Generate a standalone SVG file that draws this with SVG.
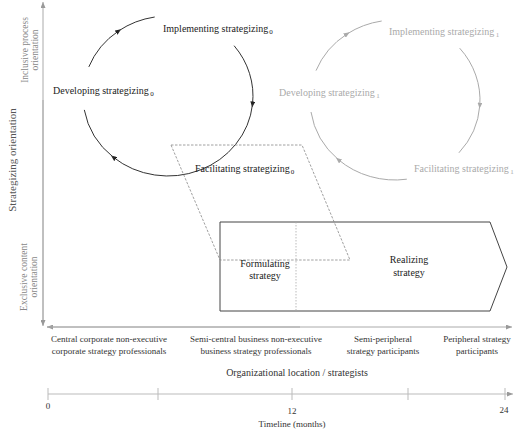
<svg xmlns="http://www.w3.org/2000/svg" width="520" height="432" viewBox="0 0 520 432" font-family="'Liberation Serif', 'Times New Roman', serif">
<style>
text{font-family:'Liberation Serif','Times New Roman',serif;}
.dk{fill:#222;font-size:10px;}
.gr{fill:#aaa;font-size:10px;}
.ax{fill:#888;font-size:9.5px;}
.lb{fill:#333;font-size:9px;}
.sub{font-size:7px;}
.arcd{fill:none;stroke:#333;stroke-width:1;}
.arcg{fill:none;stroke:#aaa;stroke-width:1;}
.axis{stroke:#aaa;stroke-width:1;fill:none;}
</style>
<defs>
<marker id="ad" markerWidth="6" markerHeight="5" refX="3" refY="2.5" orient="auto" markerUnits="userSpaceOnUse"><path d="M0,0 L6,2.5 L0,5 z" fill="#222"/></marker>
<marker id="ag" markerWidth="6" markerHeight="5" refX="3" refY="2.5" orient="auto" markerUnits="userSpaceOnUse"><path d="M0,0 L6,2.5 L0,5 z" fill="#aaa"/></marker>
<marker id="ax" markerWidth="6" markerHeight="5" refX="6" refY="2.5" orient="auto" markerUnits="userSpaceOnUse"><path d="M0,0 L6,2.5 L0,5 z" fill="#999"/></marker>
</defs>

<g id="axes">
<line class="axis" x1="43" y1="325" x2="43" y2="2" marker-end="url(#ax)"/>
<line class="axis" x1="43" y1="100" x2="43" y2="326" marker-end="url(#ax)"/>
<line class="axis" x1="300" y1="327" x2="47" y2="327" marker-end="url(#ax)"/>
<line class="axis" x1="47" y1="327" x2="512" y2="327" marker-end="url(#ax)"/>
<text transform="translate(16,160) rotate(-90)" text-anchor="middle" style="fill:#555;font-size:11px">Strategizing orientation</text>
<text transform="translate(28,50) rotate(-90)" text-anchor="middle" class="ax">Inclusive process</text>
<text transform="translate(38,50) rotate(-90)" text-anchor="middle" class="ax">orientation</text>
<text transform="translate(26.5,277) rotate(-90)" text-anchor="middle" class="ax">Exclusive content</text>
<text transform="translate(36.5,277) rotate(-90)" text-anchor="middle" class="ax">orientation</text>
</g>

<g id="connectors">
<path class="arcd" d="M88.8,66.9 A85,80 0 0 1 118.6,30.9" marker-end="url(#ad)"/>
<path class="arcd" d="M118.6,30.9 A85,80 0 0 1 154.7,17.0"/>
<path class="arcd" d="M234.1,45.7 A85,80 0 0 1 252.5,104.4" marker-end="url(#ad)"/>
<path class="arcd" d="M252.5,104.4 A85,80 0 0 1 113.4,157.3" marker-end="url(#ad)"/>
<path class="arcd" d="M113.4,157.3 A85,80 0 0 1 84.3,109.9"/>
<path class="arcg" d="M316,70.6 A85,80 0 0 1 347,34" marker-end="url(#ag)"/>
<path class="arcg" d="M347,34 A85,80 0 0 1 381.7,21"/>
<path class="arcg" d="M459.7,48.2 A85,80 0 0 1 479.8,105.6" marker-end="url(#ag)"/>
<path class="arcg" d="M479.8,105.6 A85,80 0 0 1 458.9,152.8"/>
<path class="arcg" d="M406.8,179.2 A85,80 0 0 1 338.3,159.6" marker-end="url(#ag)"/>
<path class="arcg" d="M338.3,159.6 A85,80 0 0 1 311,112"/>
</g>

<g id="cycle0">
<text class="dk" x="163" y="32">Implementing strategizing<tspan class="sub" dx="1" dy="2">0</tspan></text>
<text class="dk" x="53" y="94">Developing strategizing<tspan class="sub" dx="1.5" dy="2">0</tspan></text>
</g>

<g id="cycle1">
<text class="gr" x="389" y="35">Implementing strategizing<tspan class="sub" dx="1.5" dy="2">1</tspan></text>
<text class="gr" x="279" y="96">Developing strategizing<tspan class="sub" dx="1.5" dy="2">1</tspan></text>
<text class="gr" x="414" y="172">Facilitating strategizing<tspan class="sub" dx="1.5" dy="2">1</tspan></text>
</g>

<g id="realizing">
<path d="M220,222 L490,222 L507,267 L490,311 L220,311 Z" fill="none" stroke="#444" stroke-width="1"/>
<line x1="296" y1="222" x2="296" y2="311" stroke="#aaa" stroke-width="0.8" stroke-dasharray="1.5,1.5"/>
<text class="dk" x="409" y="263" text-anchor="middle">Realizing</text>
<text class="dk" x="409" y="276" text-anchor="middle">strategy</text>
</g>

<g id="formulating">
<path d="M171,145 L302,145 L350,260 L220,260 Z" fill="none" stroke="#888" stroke-width="0.8" stroke-dasharray="2.5,1.5"/>
<text class="dk" x="265" y="267" text-anchor="middle">Formulating</text>
<text class="dk" x="265" y="279" text-anchor="middle">strategy</text>
</g>

<g id="facilitating0">
<text class="dk" x="195" y="172">Facilitating strategizing<tspan class="sub" dx="1" dy="2">0</tspan></text>
</g>

<g id="locations">
<text class="lb" x="109" y="342" text-anchor="middle">Central corporate non-executive</text>
<text class="lb" x="109" y="354" text-anchor="middle">corporate strategy professionals</text>
<text class="lb" x="256" y="342" text-anchor="middle">Semi-central business non-executive</text>
<text class="lb" x="256" y="354" text-anchor="middle">business strategy professionals</text>
<text class="lb" x="383" y="342" text-anchor="middle">Semi-peripheral</text>
<text class="lb" x="383" y="354" text-anchor="middle">strategy participants</text>
<text class="lb" x="477" y="342" text-anchor="middle">Peripheral strategy</text>
<text class="lb" x="477" y="354" text-anchor="middle">participants</text>
<text class="dk" x="297" y="376" text-anchor="middle" style="fill:#333">Organizational location / strategists</text>
</g>

<g id="timeline">
<line x1="48" y1="394" x2="513" y2="394" stroke="#bbb" stroke-width="1" marker-end="url(#ax)"/>
<line x1="48" y1="388" x2="48" y2="400" stroke="#bbb"/>
<line x1="158" y1="388" x2="158" y2="400" stroke="#bbb"/>
<line x1="292" y1="388" x2="292" y2="400" stroke="#bbb"/>
<line x1="408" y1="388" x2="408" y2="400" stroke="#bbb"/>
<line x1="505" y1="388" x2="505" y2="400" stroke="#bbb"/>
<text class="lb" x="48" y="409" text-anchor="middle">0</text>
<text class="lb" x="292" y="414" text-anchor="middle">12</text>
<text class="lb" x="504" y="413" text-anchor="middle">24</text>
<text class="lb" x="292" y="427" text-anchor="middle">Timeline (months)</text>
</g>
</svg>
